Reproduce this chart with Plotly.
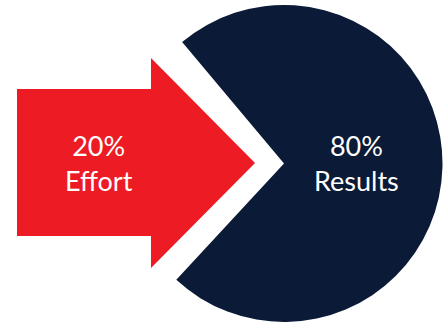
import plotly.graph_objects as go

# Data
categories = ["Effort", "Results"]
shares = [20, 80]                      # percentages shown as text
pie_parts = ["Results", "Gap"]
pie_values = [73, 27]                  # visual wedge sizes
labels = [f"{shares[0]}%<br>{categories[0]}", f"{shares[1]}%<br>{categories[1]}"]

W, H = 444, 326
RED = "#ED1C24"
NAVY = "#0B1A37"

fig = go.Figure()

# Arrow geometry (pixel space)
ax0, ax1, tip = 17, 151, 255
body_top, body_bot = 89, 236
head_top, head_bot, mid = 58, 268, 163
arrow_x = [ax0, ax1, ax1, tip, ax1, ax1, ax0, ax0]
arrow_y = [body_top, body_top, head_top, mid, head_bot, body_bot, body_bot, body_top]
fig.add_trace(go.Scatter(x=arrow_x, y=arrow_y, fill="toself", fillcolor=RED,
                         mode="lines", line=dict(width=0, color=RED),
                         hoverinfo="skip", showlegend=False))

# Pie (pac-man)
cx, cy, r = 284, 163.5, 158.5
fig.add_trace(go.Pie(labels=pie_parts, values=pie_values, sort=False,
                     direction="clockwise", rotation=-40,
                     marker=dict(colors=[NAVY, "rgba(0,0,0,0)"], line=dict(width=0)),
                     textinfo="none", hoverinfo="skip", showlegend=False,
                     domain=dict(x=[(cx - r) / W, (cx + r) / W],
                                 y=[(H - cy - r) / H, (H - cy + r) / H])))

fig.add_annotation(x=99, y=163, text=labels[0], showarrow=False,
                   font=dict(family="Lato", size=27, color="white"))
fig.add_annotation(x=356, y=163, text=labels[1], showarrow=False,
                   font=dict(family="Lato", size=27, color="white"))

fig.update_layout(width=W, height=H, margin=dict(l=0, r=0, t=0, b=0),
                  paper_bgcolor="white", plot_bgcolor="rgba(0,0,0,0)",
                  xaxis=dict(range=[0, W], visible=False, domain=[0, 1]),
                  yaxis=dict(range=[H, 0], visible=False, domain=[0, 1]))

fig.write_html("out.html")
